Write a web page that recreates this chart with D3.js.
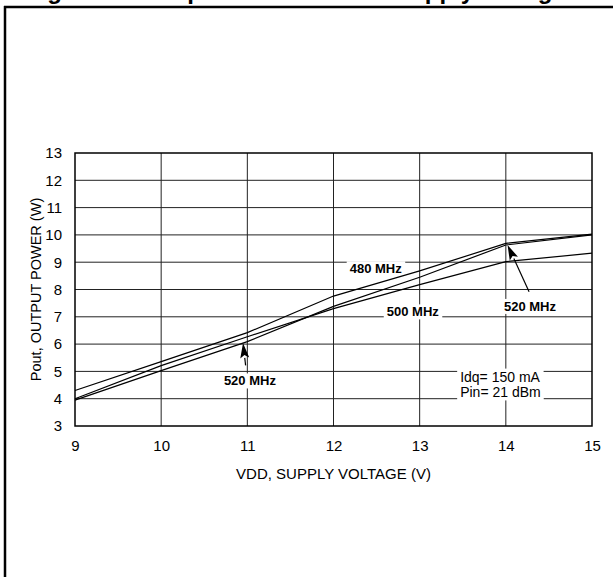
<!DOCTYPE html>
<html><head><meta charset="utf-8">
<script src="https://cdn.jsdelivr.net/npm/d3@7"></script>
<style>
html,body{margin:0;padding:0;background:#fff;}
svg{display:block;}
text{font-family:Arial,"Liberation Sans",Helvetica,sans-serif;}
</style></head>
<body>
<svg id="chart" width="613" height="577"></svg>
<script>
// ---- data ----
const voltages = [9, 10, 11, 12, 13, 14, 15];
const pout480 = [4.30, 5.36, 6.42, 7.76, 8.68, 9.69, 10.03];
const pout500 = [4.00, 5.21, 6.27, 7.30, 8.18, 9.02, 9.33];
const pout520 = [3.95, 5.03, 6.09, 7.38, 8.45, 9.63, 10.00];
const xTicks = [9, 10, 11, 12, 13, 14, 15];
const yTicks = [3, 4, 5, 6, 7, 8, 9, 10, 11, 12, 13];
const titleText = "Figure 10. Output Power versus Supply Voltage";
const xTitle = "VDD, SUPPLY VOLTAGE (V)";
const yTitle = "Pout, OUTPUT POWER (W)";
// annotations in data units
const seriesLabels = [
  {text: "480 MHz", v: 12.49, w: 8.76},
  {text: "500 MHz", v: 12.92, w: 7.18},
  {text: "520 MHz", v: 14.28, w: 7.38},
  {text: "520 MHz", v: 11.03, w: 4.65}
];
const arrows = [
  {from: [14.27, 7.92], to: [14.02, 9.63]},
  {from: [10.98, 5.22], to: [10.95, 6.04]}
];
const conditions = [
  {text: "Idq= 150 mA", v: 13.47, w: 4.81},
  {text: "Pin= 21 dBm", v: 13.47, w: 4.23}
];

// ---- layout ----
const svg = d3.select("#chart");
const x = d3.scaleLinear().domain([9, 15]).range([75, 592]);
const y = d3.scaleLinear().domain([3, 13]).range([426, 153]);

// clipped title at very top
svg.append("text").attr("x", 26).attr("y", -1.5)
  .attr("font-size", 24).attr("font-weight", "bold").text(titleText);

// frame
svg.append("line").attr("x1", 4).attr("x2", 613).attr("y1", 7).attr("y2", 7)
  .attr("stroke", "#000").attr("stroke-width", 2.5);
svg.append("line").attr("x1", 5).attr("x2", 5).attr("y1", 6).attr("y2", 577)
  .attr("stroke", "#000").attr("stroke-width", 2.5);

// grid
const grid = svg.append("g");
grid.selectAll("line.v").data(xTicks.slice(1, -1)).join("line")
  .attr("x1", d => x(d)).attr("x2", d => x(d))
  .attr("y1", y(13)).attr("y2", y(3))
  .attr("stroke", "#222").attr("stroke-width", 1);
grid.selectAll("line.h").data(yTicks.slice(1, -1)).join("line")
  .attr("y1", d => y(d)).attr("y2", d => y(d))
  .attr("x1", x(9)).attr("x2", x(15))
  .attr("stroke", "#222").attr("stroke-width", 1);

function addLabel(g, t, cx, cy, anchor, weight, size) {
  return g.append("text").attr("x", cx).attr("y", cy)
    .attr("text-anchor", anchor).attr("dominant-baseline", "central")
    .attr("font-size", size).attr("font-weight", weight).text(t);
}
const bgG = svg.append("g");
const lineG = svg.append("g");
const txtG = svg.append("g");

seriesLabels.forEach(d => {
  const el = addLabel(txtG, d.text, x(d.v), y(d.w), "middle", "bold", 13);
  const b = el.node().getBBox();
  bgG.append("rect").attr("x", b.x - 3).attr("y", b.y).attr("width", b.width + 6)
    .attr("height", b.height).attr("fill", "#fff");
});
conditions.forEach(d => {
  const el = addLabel(txtG, d.text, x(d.v), y(d.w), "start", "normal", 14);
  const b = el.node().getBBox();
  bgG.append("rect").attr("x", b.x - 3).attr("y", b.y).attr("width", b.width + 6)
    .attr("height", b.height).attr("fill", "#fff");
});

// data lines
const line = d3.line().x((d, i) => x(voltages[i])).y(d => y(d));
[pout480, pout500, pout520].forEach(s => {
  lineG.append("path").attr("d", line(s)).attr("fill", "none")
    .attr("stroke", "#000").attr("stroke-width", 1.2);
});

// arrows
arrows.forEach(a => {
  const x1 = x(a.from[0]), y1 = y(a.from[1]), x2 = x(a.to[0]), y2 = y(a.to[1]);
  const ang = Math.atan2(y2 - y1, x2 - x1);
  const L = 15, W = 4.5;
  const bx = x2 - L * Math.cos(ang), by = y2 - L * Math.sin(ang);
  lineG.append("line").attr("x1", x1).attr("y1", y1).attr("x2", bx).attr("y2", by)
    .attr("stroke", "#000").attr("stroke-width", 1.2);
  const px = -Math.sin(ang) * W, py = Math.cos(ang) * W;
  lineG.append("path")
    .attr("d", `M${x2},${y2}L${bx + px},${by + py}L${bx + (x2 - bx) * 0.2},${by + (y2 - by) * 0.2}L${bx - px},${by - py}Z`)
    .attr("fill", "#000");
});

// plot border
svg.append("rect").attr("x", x(9)).attr("y", y(13))
  .attr("width", x(15) - x(9)).attr("height", y(3) - y(13))
  .attr("fill", "none").attr("stroke", "#000").attr("stroke-width", 1.5);

// axes tick labels
const xAxis = svg.append("g").attr("transform", `translate(0,${y(3)})`)
  .call(d3.axisBottom(x).tickValues(xTicks).tickSize(0).tickPadding(14).tickFormat(d3.format("d")));
xAxis.select(".domain").remove();
xAxis.selectAll("text").attr("font-size", 15).attr("fill", "#000")
  .attr("font-family", "Arial, 'Liberation Sans', sans-serif");

const yAxis = svg.append("g").attr("transform", `translate(${x(9)},0)`)
  .call(d3.axisLeft(y).tickValues(yTicks).tickSize(0).tickPadding(13).tickFormat(d3.format("d")));
yAxis.select(".domain").remove();
yAxis.selectAll("text").attr("font-size", 15).attr("fill", "#000")
  .attr("font-family", "Arial, 'Liberation Sans', sans-serif");

// axis titles
svg.append("text").attr("x", (x(9) + x(15)) / 2).attr("y", 473)
  .attr("text-anchor", "middle").attr("dominant-baseline", "central")
  .attr("font-size", 15).text(xTitle);
svg.append("text").attr("transform", `translate(36,${(y(3) + y(13)) / 2}) rotate(-90)`)
  .attr("text-anchor", "middle").attr("dominant-baseline", "central")
  .attr("font-size", 14.5).text(yTitle);
</script>
</body></html>
